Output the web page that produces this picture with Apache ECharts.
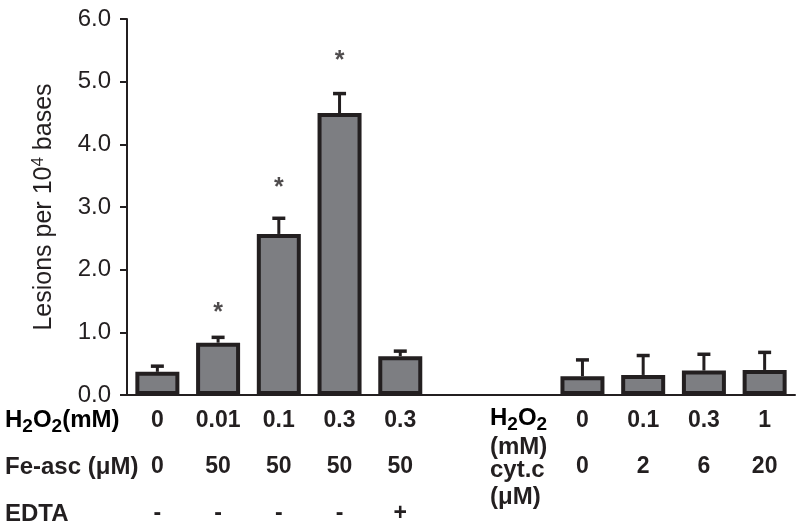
<!DOCTYPE html>
<html><head><meta charset="utf-8">
<script src="https://cdn.jsdelivr.net/npm/echarts@6/dist/echarts.min.js"></script>
<style>html,body{margin:0;padding:0;background:#fff}#c{width:800px;height:531px}</style>
</head><body><div id="c"></div>
<script>
// ---- data ----
const conditions = ['ctrl', 'Fe 0.01', 'Fe 0.1', 'Fe 0.3', 'Fe 0.3 EDTA', 'gap1', 'gap2', 'cyt 0', 'cyt 0.1', 'cyt 0.3', 'cyt 1'];
const h2o2Row = ['0', '0.01', '0.1', '0.3', '0.3', '', '', '0', '0.1', '0.3', '1'];
const concRow = ['0', '50', '50', '50', '50', '', '', '0', '2', '6', '20'];
const edtaRow = ['-', '-', '-', '-', '+', '', '', '', '', '', ''];
const means = [0.37, 0.835, 2.57, 4.50, 0.62, null, null, 0.30, 0.32, 0.39, 0.40];
const errs = [0.09, 0.085, 0.25, 0.31, 0.08, null, null, 0.26, 0.31, 0.26, 0.28];
const sigMarks = [null, 1.41, 3.39, 5.43, null, null, null, null, null, null, null];
const yMin = 0, yMax = 6, yStep = 1;

const FONT = "'Liberation Sans', Arial, sans-serif";
const INK = '#231f20';

const chart = echarts.init(document.getElementById('c'));
const labelStyle = { interval: 0, fontSize: 23, fontWeight: 'bold', color: INK, fontFamily: FONT };

const errData = [];
means.forEach((m, i) => { if (m != null) errData.push([i, m, m + errs[i]]); });
const sigData = [];
sigMarks.forEach((s, i) => { if (s != null) sigData.push([i, s]); });

const rich = {
  n: { fontSize: 24, fontWeight: 'bold', fontFamily: FONT, color: INK },
  s: { fontSize: 19, fontWeight: 'bold', fontFamily: FONT, color: INK, padding: [14, 0, 0, 0] }
};
const rowText = { fontSize: 24, fontWeight: 'bold', fontFamily: FONT, fill: INK };

chart.setOption({
  animation: false,
  grid: { left: 127, right: 5, top: 19, bottom: 136 },
  xAxis: [
    { type: 'category', data: conditions, axisLine: { lineStyle: { color: INK, width: 2 } }, axisTick: { show: false },
      axisLabel: Object.assign({ margin: 14, formatter: (v, i) => h2o2Row[i] }, labelStyle) },
    { type: 'category', data: conditions, position: 'bottom', offset: 46, axisLine: { show: false }, axisTick: { show: false },
      axisLabel: Object.assign({ margin: 14, formatter: (v, i) => concRow[i] }, labelStyle) },
    { type: 'category', data: conditions, position: 'bottom', offset: 93, axisLine: { show: false }, axisTick: { show: false },
      axisLabel: Object.assign({ margin: 14, formatter: (v, i) => edtaRow[i] }, labelStyle) }
  ],
  yAxis: {
    type: 'value', min: yMin, max: yMax, interval: yStep,
    axisLine: { show: true, lineStyle: { color: INK, width: 2 } },
    axisTick: { show: true, length: 7, lineStyle: { color: INK, width: 2 } },
    splitLine: { show: false },
    axisLabel: { fontSize: 24, color: INK, fontFamily: FONT, margin: 16, formatter: v => v.toFixed(1) },
    name: 'Lesions per 10{sup|4} bases', nameLocation: 'middle', nameGap: 68, nameRotate: 90,
    nameTextStyle: { fontSize: 25, color: INK, fontFamily: FONT,
      rich: { sup: { fontSize: 17, color: INK, fontFamily: FONT, padding: [0, 0, 12, 0] } } }
  },
  series: [
    { type: 'bar', data: means.map(m => m == null ? '-' : m), barWidth: 44,
      itemStyle: { color: '#7d7e82', borderColor: INK, borderWidth: 4 }, z: 3 },
    { type: 'custom', data: errData, encode: { x: 0, y: [1, 2] }, z: 2,
      renderItem: (params, api) => {
        const x = api.value(0);
        const p0 = api.coord([x, api.value(1)]);
        const p1 = api.coord([x, api.value(2)]);
        return { type: 'group', children: [
          { type: 'line', shape: { x1: p0[0], y1: p0[1], x2: p1[0], y2: p1[1] }, style: { stroke: INK, lineWidth: 3 } },
          { type: 'line', shape: { x1: p1[0] - 6.5, y1: p1[1], x2: p1[0] + 6.5, y2: p1[1] }, style: { stroke: INK, lineWidth: 3.5 } }
        ] };
      } },
    { type: 'scatter', data: sigData, symbolSize: 0, z: 4,
      label: { show: true, position: 'inside', formatter: '*', fontSize: 25, fontWeight: 'bold', color: INK, fontFamily: FONT, offset: [0, 6] } }
  ],
  graphic: [
    { type: 'text', left: 5, top: 408, style: { text: '{n|H}{s|2}{n|O}{s|2}{n|(mM)}', rich: rich } },
    { type: 'text', left: 5, top: 455, style: Object.assign({ text: 'Fe-asc (μM)' }, rowText) },
    { type: 'text', left: 5, top: 502, style: Object.assign({ text: 'EDTA' }, rowText) },
    { type: 'text', left: 490, top: 406, style: { text: '{n|H}{s|2}{n|O}{s|2}', rich: rich } },
    { type: 'text', left: 490, top: 435, style: Object.assign({ text: '(mM)' }, rowText) },
    { type: 'text', left: 490, top: 458, style: Object.assign({ text: 'cyt.c' }, rowText) },
    { type: 'text', left: 490, top: 485, style: Object.assign({ text: '(μM)' }, rowText) }
  ]
});
</script>
</body></html>
